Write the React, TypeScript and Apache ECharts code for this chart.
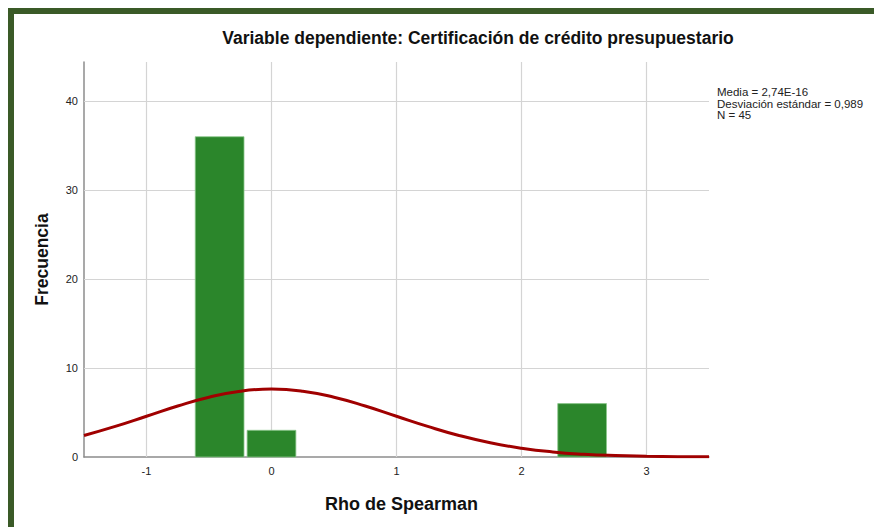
import React, { useEffect, useRef } from "react";
import * as echarts from "echarts";

const TITLE = "Variable dependiente: Certificación de crédito presupuestario";
const X_NAME = "Rho de Spearman";
const Y_NAME = "Frecuencia";
const STATS = ["Media = 2,74E-16", "Desviación estándar = 0,989", "N = 45"];

// histogram bins (Rho de Spearman), bar edges and counts
const binStart = [-0.61, -0.195, 2.29];
const binEnd = [-0.22, 0.195, 2.68];
const counts = [36, 3, 6];

// normal curve
const curveX = [-1.5, -1.25, -1, -0.75, -0.5, -0.25, 0, 0.25, 0.5, 0.75, 1, 1.25, 1.5, 1.75, 2, 2.25, 2.5, 2.75, 3, 3.25, 3.5];
const curveY = [2.42, 3.44, 4.58, 5.73, 6.72, 7.4, 7.64, 7.4, 6.72, 5.73, 4.58, 3.44, 2.42, 1.6, 0.99, 0.57, 0.31, 0.16, 0.08, 0.03, 0.015];

const xTicks = [-1, 0, 1, 2, 3];
const yTicks = [0, 10, 20, 30, 40];
const X_MIN = -1.5;
const X_MAX = 3.5;
const Y_MAX = 44.4;

const FONT = "'Liberation Sans', Arial, sans-serif";

export default function App() {
  const ref = useRef<HTMLDivElement>(null);
  useEffect(() => {
    document.body.style.margin = "0";
    const chart = echarts.init(ref.current!, null, { renderer: "svg" });
    const gridColor = "#d4d4d4";
    chart.setOption({
      animation: false,
      backgroundColor: "#ffffff",
      grid: { left: 84, right: 165, top: 62, bottom: 70 },
      xAxis: {
        type: "value",
        min: X_MIN,
        max: X_MAX,
        name: X_NAME,
        nameLocation: "middle",
        nameGap: 38,
        nameTextStyle: { fontFamily: FONT, fontSize: 18, fontWeight: "bold", color: "#111", padding: [0, 0, 0, 10] },
        axisLine: { onZero: false, lineStyle: { color: "#8c8c8c", width: 1.5 } },
        axisTick: { show: false },
        splitLine: { show: false },
        axisLabel: { customValues: xTicks, fontFamily: FONT, fontSize: 11, color: "#222", margin: 8 },
      },
      yAxis: {
        type: "value",
        min: 0,
        max: Y_MAX,
        name: Y_NAME,
        nameLocation: "middle",
        nameGap: 33,
        nameTextStyle: { fontFamily: FONT, fontSize: 17.5, fontWeight: "bold", color: "#111" },
        axisLine: { show: true, onZero: false, lineStyle: { color: "#8c8c8c", width: 1.5 } },
        axisTick: { show: false },
        splitLine: { show: false },
        axisLabel: { customValues: yTicks, fontFamily: FONT, fontSize: 11, color: "#222", margin: 6 },
      },
      series: [
        {
          type: "line",
          data: [],
          z: 1,
          silent: true,
          markLine: {
            z: 1,
            silent: true,
            symbol: "none",
            label: { show: false },
            lineStyle: { color: gridColor, type: "solid", width: 1.2 },
            data: [
              ...xTicks.map((v) => ({ xAxis: v })),
              ...yTicks.filter((v) => v > 0).map((v) => ({ yAxis: v })),
            ],
          },
        },
        {
          type: "custom",
          z: 3,
          data: binStart.map((s, i) => [s, binEnd[i], counts[i]]),
          renderItem: (params: any, api: any) => {
            const p0 = api.coord([api.value(0), 0]);
            const p1 = api.coord([api.value(1), api.value(2)]);
            return {
              type: "rect",
              shape: { x: p0[0], y: p1[1], width: p1[0] - p0[0], height: p0[1] - p1[1] },
              style: { fill: "#2b862b", stroke: "#8cc68c", lineWidth: 0.8 },
            };
          },
        },
        {
          type: "line",
          z: 4,
          data: curveX.map((x, i) => [x, curveY[i]]),
          smooth: true,
          showSymbol: false,
          symbol: "none",
          lineStyle: { color: "#a00000", width: 3 },
        },
      ],
      graphic: [
        { type: "rect", left: 8, top: 8, shape: { width: 866, height: 6 }, style: { fill: "#3a5a27" } },
        { type: "rect", left: 8, top: 8, shape: { width: 6, height: 519 }, style: { fill: "#3a5a27" } },
        {
          type: "text",
          x: 478,
          y: 38,
          style: { text: TITLE, fontFamily: FONT, fontSize: 17.5, fontWeight: "bold", fill: "#111", align: "center", verticalAlign: "middle" },
        },
        ...STATS.map((s, i) => ({
          type: "text",
          x: 717,
          y: 92 + i * 11.5,
          style: { text: s, fontFamily: FONT, fontSize: 11.5, fill: "#222", align: "left", verticalAlign: "middle" },
        })),
      ],
    });
    return () => chart.dispose();
  }, []);
  return <div ref={ref} style={{ width: 874, height: 527 }} />;
}
